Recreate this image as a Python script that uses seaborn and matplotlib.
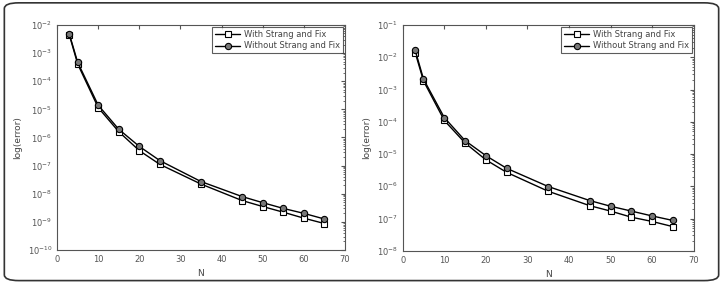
import numpy as np
import pandas as pd
import seaborn as sns
from matplotlib import pyplot as plt
from matplotlib.patches import FancyBboxPatch
from matplotlib.ticker import LogLocator, NullFormatter

# data
N = [3, 5, 10, 15, 20, 25, 35, 45, 50, 55, 60, 65]
left_with = [4.3e-3, 4.1e-4, 1.15e-5, 1.6e-6, 3.4e-7, 1.1e-7, 2.2e-8, 5.7e-9, 3.5e-9, 2.2e-9, 1.35e-9, 8.7e-10]
left_without = [4.6e-3, 4.7e-4, 1.4e-5, 1.95e-6, 4.8e-7, 1.5e-7, 2.7e-8, 7.9e-9, 4.8e-9, 3.0e-9, 2.0e-9, 1.26e-9]
right_with = [1.4e-2, 1.85e-3, 1.1e-4, 2.2e-5, 6.6e-6, 2.7e-6, 7.0e-7, 2.5e-7, 1.7e-7, 1.1e-7, 8.1e-8, 5.6e-8]
right_without = [1.65e-2, 2.1e-3, 1.35e-4, 2.6e-5, 8.9e-6, 3.6e-6, 9.8e-7, 3.6e-7, 2.4e-7, 1.7e-7, 1.2e-7, 8.7e-8]
labels = ['With Strang and Fix', 'Without Strang and Fix']
ylims = [(1e-10, 1e-2), (1e-8, 1e-1)]

sns.set_style('white')
plt.rcParams['font.family'] = ['DejaVu Sans']
plt.rcParams['font.size'] = 6
plt.rcParams['axes.linewidth'] = 0.8

fig = plt.figure(figsize=(7.23, 2.84), dpi=100)
# rounded frame round the whole figure
fig.patches.append(FancyBboxPatch((0.006, 0.012), 0.988, 0.978, boxstyle='round,pad=0,rounding_size=0.02',
                                  transform=fig.transFigure, fill=False, edgecolor='#333333', linewidth=1.2))

axes = [fig.add_axes([0.079, 0.12, 0.398, 0.792]), fig.add_axes([0.557, 0.117, 0.4025, 0.795])]
series = [(left_with, left_without), (right_with, right_without)]

for ax, (w, wo), yl in zip(axes, series, ylims):
    df = pd.DataFrame({'N': N * 2, 'err': w + wo, 'method': [labels[0]] * len(N) + [labels[1]] * len(N)})
    sns.lineplot(data=df[df.method == labels[0]], x='N', y='err', ax=ax, color='black', lw=1.0,
                 marker='s', markersize=5, mfc='white', mec='black', mew=0.8, label=labels[0])
    sns.lineplot(data=df[df.method == labels[1]], x='N', y='err', ax=ax, color='black', lw=1.0,
                 marker='o', markersize=4.5, mfc='#777777', mec='black', mew=0.8, label=labels[1])
    ax.set_yscale('log')
    ax.set_xlim(0, 70)
    ax.set_ylim(*yl)
    ax.set_xticks(range(0, 71, 10))
    ax.yaxis.set_major_locator(LogLocator(base=10, numticks=20))
    ax.yaxis.set_minor_locator(LogLocator(base=10, subs=np.arange(2, 10), numticks=20))
    ax.yaxis.set_minor_formatter(NullFormatter())
    ax.tick_params(which='both', direction='in', top=True, right=True, colors='#555555', labelcolor='#555555',
                   labelsize=6)
    ax.tick_params(which='major', length=3)
    ax.tick_params(which='minor', length=1.5)
    for s in ax.spines.values():
        s.set_color('#555555')
    ax.set_xlabel('N', fontsize=6.5, color='#444444')
    ax.set_ylabel('log(error)', fontsize=6.5, color='#444444')
    leg = ax.legend(loc='upper right', fontsize=6, frameon=True, fancybox=False, edgecolor='#333333',
                    handlelength=3.0, handletextpad=0.4, borderpad=0.35, labelspacing=0.3, borderaxespad=0.25)
    leg.get_frame().set_linewidth(0.8)
    for t in leg.get_texts():
        t.set_color('#444444')

fig.savefig('out.png', dpi=100)
